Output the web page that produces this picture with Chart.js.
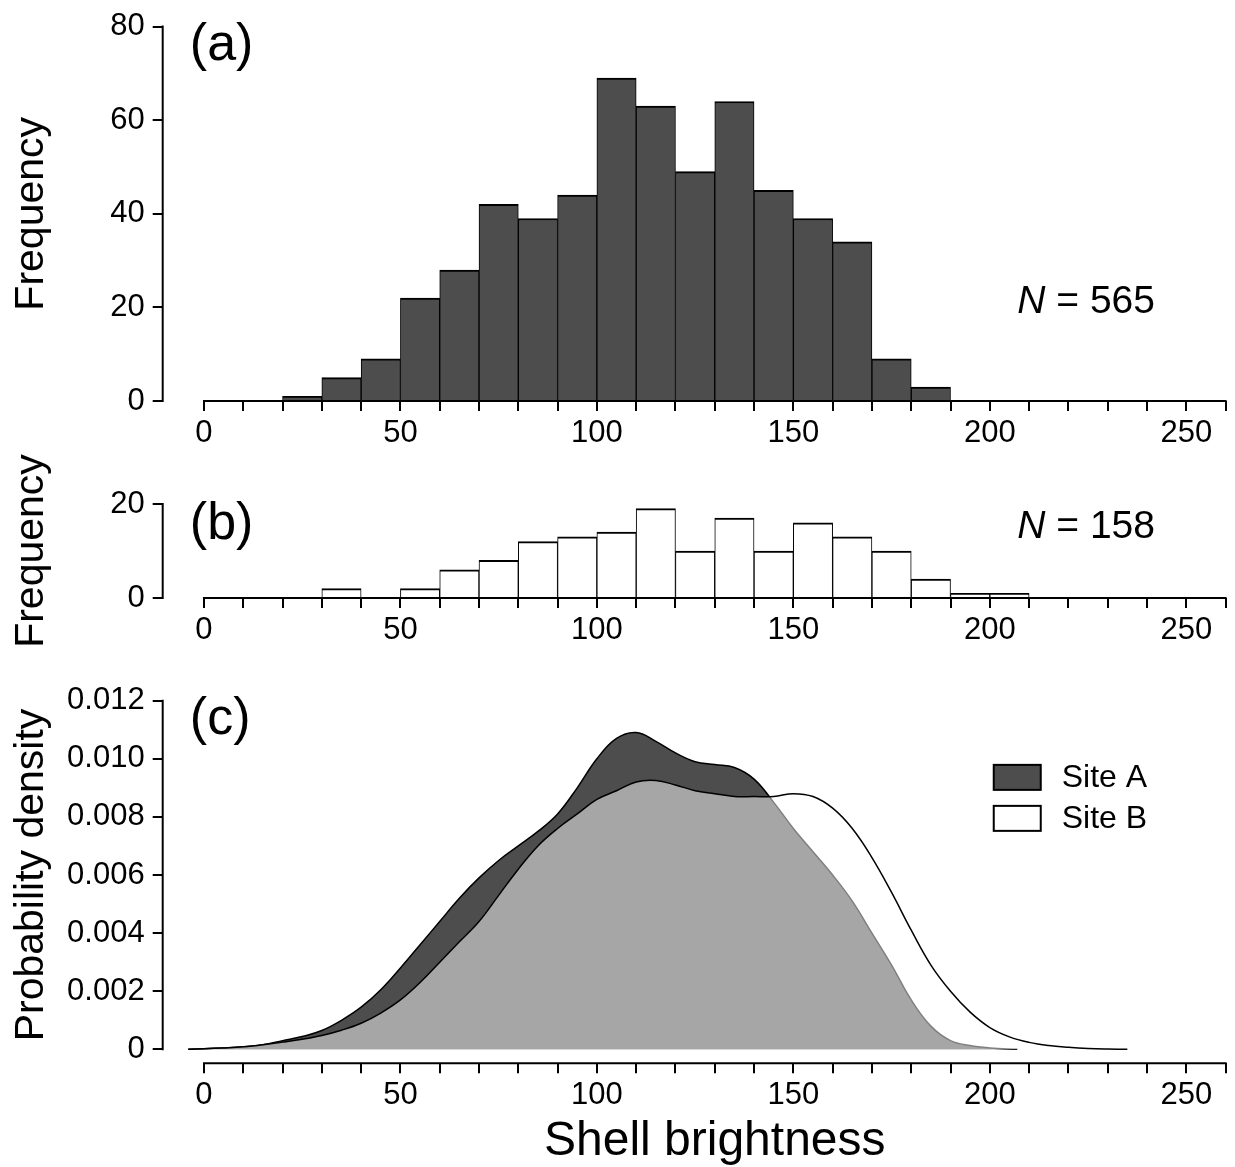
<!DOCTYPE html>
<html>
<head>
<meta charset="utf-8">
<script src="https://cdn.jsdelivr.net/npm/chart.js@4.4.1/dist/chart.umd.min.js"></script>
<style>
  body { margin: 0; background: #fff; width: 1235px; height: 1167px; overflow: hidden; position: relative; }
  canvas { position: absolute; left: 0; }
</style>
</head>
<body>
<canvas id="panel-a" width="1235" height="460" style="top:0px"></canvas>
<canvas id="panel-b" width="1235" height="220" style="top:440px"></canvas>
<canvas id="panel-c" width="1235" height="507" style="top:660px"></canvas>
<script>
// histogram bins, 10 wide, 0..260
const binStarts = [0, 10, 20, 30, 40, 50, 60, 70, 80, 90, 100, 110, 120, 130, 140, 150, 160, 170, 180, 190, 200, 210, 220, 230, 240, 250];
const siteACounts = [0, 0, 1, 5, 9, 22, 28, 42, 39, 44, 69, 63, 49, 64, 45, 39, 34, 9, 3, 0, 0, 0, 0, 0, 0, 0];
const siteBCounts = [0, 0, 0, 2, 0, 2, 6, 8, 12, 13, 14, 19, 10, 17, 10, 16, 13, 10, 4, 1, 1, 0, 0, 0, 0, 0];

// kernel density curves
const densityXA = [-4, 0, 5, 10, 15, 20, 25, 30, 35, 40, 45, 50, 55, 60, 65, 70, 75, 80, 85, 90, 95, 100, 105, 110, 115, 120, 125, 130, 135, 140, 145, 150, 155, 160, 165, 170, 175, 180, 185, 190, 195, 200, 207];
const siteADensity = [0, 0.00002, 0.00005, 0.00009, 0.00016, 0.0003, 0.00044, 0.00065, 0.001, 0.00145, 0.00205, 0.0028, 0.0036, 0.0044, 0.0052, 0.0059, 0.0065, 0.007, 0.0075, 0.0081, 0.009, 0.01, 0.0107, 0.0109, 0.0106, 0.0102, 0.0099, 0.0098, 0.0097, 0.0093, 0.0085, 0.0076, 0.0068, 0.006, 0.0051, 0.004, 0.0029, 0.0017, 0.0008, 0.0003, 0.00013, 0.00005, 0];
const densityXB = [-4, 0, 5, 10, 15, 20, 25, 30, 35, 40, 45, 50, 55, 60, 65, 70, 75, 80, 85, 90, 95, 100, 105, 110, 115, 120, 125, 130, 135, 140, 145, 150, 155, 160, 165, 170, 175, 180, 185, 190, 195, 200, 205, 210, 215, 220, 225, 230, 235];
const siteBDensity = [0, 0.00002, 0.00005, 0.00009, 0.00016, 0.00025, 0.00035, 0.00048, 0.00066, 0.0009, 0.00125, 0.0017, 0.0023, 0.003, 0.0037, 0.0044, 0.0053, 0.0062, 0.007, 0.0076, 0.0081, 0.0086, 0.0089, 0.0092, 0.00925, 0.0091, 0.0089, 0.0088, 0.0087, 0.0087, 0.0087, 0.0088, 0.0087, 0.0083, 0.0076, 0.0066, 0.0054, 0.0041, 0.0029, 0.002, 0.00128, 0.00075, 0.00043, 0.00024, 0.00013, 0.00007, 0.00003, 0.00001, 0];

const xTickLabels = [0, 50, 100, 150, 200, 250];

Chart.defaults.font.family = '"Liberation Sans", Arial, Helvetica, sans-serif';
Chart.defaults.color = '#000';

const FONT = '"Liberation Sans", Arial, Helvetica, sans-serif';

function xAxis(height) {
  return {
    type: 'linear',
    min: -10.5,
    max: 262.4,
    offset: false,
    border: { display: false },
    grid: { drawOnChartArea: false, drawTicks: true, tickLength: 10, color: '#000', lineWidth: 2, offset: false },
    ticks: {
      stepSize: 10, autoSkip: false, maxRotation: 0, includeBounds: false, padding: 4,
      font: { size: 31 },
      callback: v => (xTickLabels.includes(v) ? String(v) : '')
    },
    afterBuildTicks: s => { s.ticks = s.ticks.filter(t => t.value >= 0 && t.value <= 260); },
    afterFit: s => { s.height = height; }
  };
}

function yAxis(min, max, step, lo, hi, fmt) {
  return {
    type: 'linear',
    min: min,
    max: max,
    border: { display: false },
    grid: { drawOnChartArea: false, drawTicks: true, tickLength: 10, color: '#000', lineWidth: 2 },
    ticks: { stepSize: step, includeBounds: false, autoSkip: false, padding: 8, font: { size: 31 }, callback: fmt },
    afterBuildTicks: s => { s.ticks = s.ticks.filter(t => t.value >= lo - 1e-9 && t.value <= hi + 1e-9); },
    afterFit: s => { s.width = 162.7; }
  };
}

function drawText(ctx, str, x, y, size, o = {}) {
  ctx.save();
  ctx.translate(x, y);
  if (o.rotate) ctx.rotate(o.rotate);
  ctx.font = (o.italic ? 'italic ' : '') + size + 'px ' + FONT;
  ctx.textAlign = o.align || 'left';
  ctx.textBaseline = o.baseline || 'alphabetic';
  ctx.fillStyle = '#000';
  ctx.fillText(str, 0, 0);
  ctx.restore();
}

// axis lines drawn R-style (only between first and last tick) plus annotations
const paperAxes = {
  id: 'paperAxes',
  afterDraw(chart, args, opts) {
    const { ctx, chartArea } = chart;
    const x = chart.scales.x, y = chart.scales.y;
    ctx.save();
    ctx.strokeStyle = '#000';
    ctx.lineWidth = 2;
    ctx.beginPath();
    ctx.moveTo(x.getPixelForValue(0) - 1, chartArea.bottom);
    ctx.lineTo(x.getPixelForValue(260) + 1, chartArea.bottom);
    ctx.moveTo(chartArea.left, y.getPixelForValue(opts.yLo) + 1);
    ctx.lineTo(chartArea.left, y.getPixelForValue(opts.yHi) - 1);
    ctx.stroke();
    ctx.restore();

    // y title
    drawText(ctx, opts.yTitle, 43, y.getPixelForValue(opts.yTitleAt), 41, { rotate: -Math.PI / 2, align: 'center' });
    // panel letter
    drawText(ctx, opts.letter, x.getPixelForValue(-3.6), y.getPixelForValue(opts.letterAt), 52);
    // N label
    if (opts.n) {
      const px = x.getPixelForValue(207), py = y.getPixelForValue(opts.nAt);
      ctx.save();
      ctx.font = 'italic 39px ' + FONT;
      const w = ctx.measureText('N').width;
      ctx.restore();
      drawText(ctx, 'N', px, py, 39, { italic: true });
      drawText(ctx, ' = ' + opts.n, px + w, py, 39);
    }
    if (opts.xTitle) {
      drawText(ctx, opts.xTitle, x.getPixelForValue(130), opts.xTitleY, 48, { align: 'center' });
    }
    if (opts.legend) {
      const bx = x.getPixelForValue(201);
      let by = y.getPixelForValue(0.00979);
      chart.data.datasets.forEach(ds => {
        ctx.save();
        ctx.fillStyle = ds.legendFill;
        ctx.strokeStyle = '#000';
        ctx.lineWidth = 2;
        ctx.fillRect(bx, by, 47, 25);
        ctx.strokeRect(bx, by, 47, 25);
        ctx.restore();
        drawText(ctx, ds.label, bx + 68, by + 13, 32, { baseline: 'middle' });
        by += 41;
      });
    }
  }
};

function histDataset(counts, fill) {
  return {
    data: binStarts.map((b, i) => ({ x: b + 5, y: counts[i] })),
    backgroundColor: fill,
    borderColor: '#000',
    borderWidth: { top: 2, left: 1, right: 1, bottom: 0 },
    barPercentage: 1,
    categoryPercentage: 1
  };
}

const baseOpts = {
  responsive: false,
  animation: false,
  events: []
};

new Chart(document.getElementById('panel-a'), {
  type: 'bar',
  data: { datasets: [histDataset(siteACounts, '#4d4d4d')] },
  options: {
    ...baseOpts,
    layout: { padding: { top: 25, right: 0, bottom: 0, left: 0 } },
    scales: {
      x: xAxis(59),
      y: yAxis(0, 80, 20, 0, 80, v => String(v))
    },
    plugins: {
      legend: { display: false },
      tooltip: { enabled: false },
      paperAxes: { yLo: 0, yHi: 80, yTitle: 'Frequency', yTitleAt: 40, letter: '(a)', letterAt: 72.8, n: 565, nAt: 18.7 }
    }
  },
  plugins: [paperAxes]
});

new Chart(document.getElementById('panel-b'), {
  type: 'bar',
  data: { datasets: [histDataset(siteBCounts, '#ffffff')] },
  options: {
    ...baseOpts,
    layout: { padding: { top: 64, right: 0, bottom: 0, left: 0 } },
    scales: {
      x: xAxis(62),
      y: yAxis(0, 20, 20, 0, 20, v => String(v))
    },
    plugins: {
      legend: { display: false },
      tooltip: { enabled: false },
      paperAxes: { yLo: 0, yHi: 20, yTitle: 'Frequency', yTitleAt: 10, letter: '(b)', letterAt: 12.55, n: 158, nAt: 12.8 }
    }
  },
  plugins: [paperAxes]
});

new Chart(document.getElementById('panel-c'), {
  type: 'line',
  data: {
    datasets: [
      {
        label: 'Site A',
        data: densityXA.map((v, i) => ({ x: v, y: siteADensity[i] })),
        backgroundColor: '#4d4d4d',
        legendFill: '#4d4d4d',
        borderColor: '#000',
        borderWidth: 1.5,
        fill: 'origin',
        pointRadius: 0,
        tension: 0.4,
        order: 2
      },
      {
        label: 'Site B',
        data: densityXB.map((v, i) => ({ x: v, y: siteBDensity[i] })),
        backgroundColor: 'rgba(255,255,255,0.5)',
        legendFill: '#ffffff',
        borderColor: '#000',
        borderWidth: 1.5,
        fill: 'origin',
        pointRadius: 0,
        tension: 0.4,
        order: 1
      }
    ]
  },
  options: {
    ...baseOpts,
    layout: { padding: { top: 26.7, right: 0, bottom: 0, left: 0 } },
    scales: {
      x: xAxis(103.7),
      y: yAxis(-0.00048, 0.01248, 0.002, 0, 0.012, v => (Math.abs(v) < 1e-9 ? '0' : v.toFixed(3)))
    },
    plugins: {
      legend: { display: false },
      tooltip: { enabled: false },
      paperAxes: {
        yLo: 0, yHi: 0.012, yTitle: 'Probability density', yTitleAt: 0.006,
        letter: '(c)', letterAt: 0.01086,
        xTitle: 'Shell brightness', xTitleY: 495,
        legend: true
      }
    }
  },
  plugins: [paperAxes]
});
</script>
</body>
</html>
